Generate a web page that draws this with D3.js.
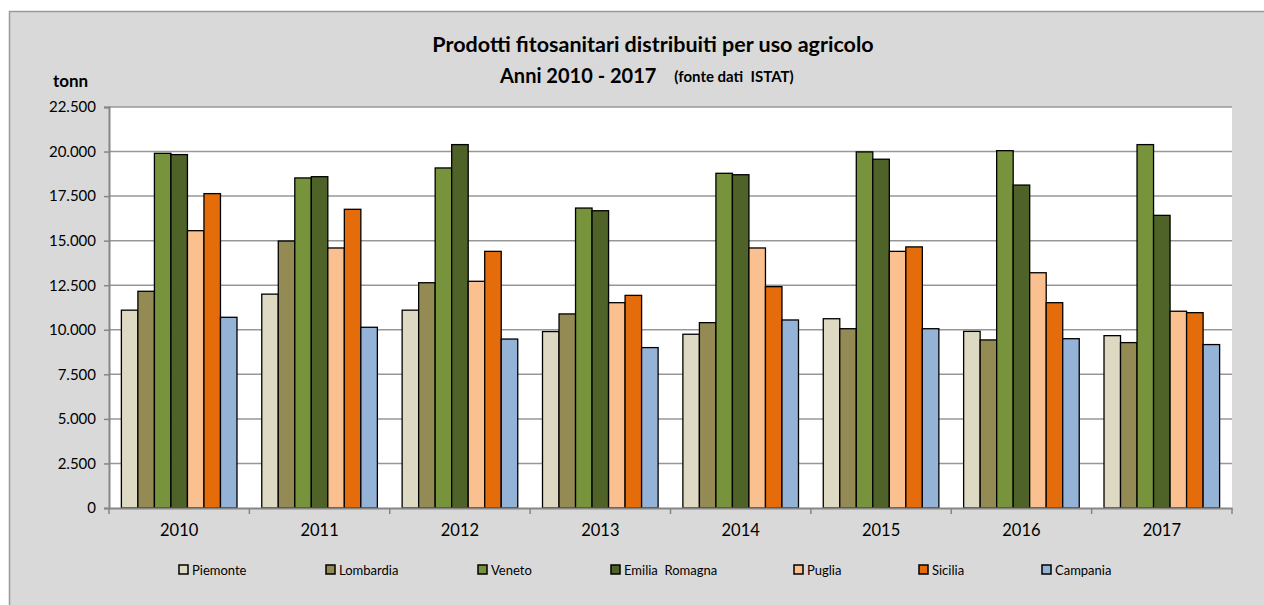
<!DOCTYPE html>
<html>
<head>
<meta charset="utf-8">
<script src="https://d3js.org/d3.v7.min.js"></script>
<style>
body { margin: 0; background: #fff; }
text { font-family: Lato, 'Open Sans', sans-serif; fill: #000; }
</style>
</head>
<body>
<script>
// data (tonn)
var years = ['2010', '2011', '2012', '2013', '2014', '2015', '2016', '2017'];
var regions = ['Piemonte', 'Lombardia', 'Veneto', 'Emilia  Romagna', 'Puglia', 'Sicilia', 'Campania'];
var piemonte = [11100, 12000, 11100, 9900, 9750, 10620, 9910, 9670];
var lombardia = [12160, 14980, 12640, 10890, 10400, 10060, 9430, 9280];
var veneto = [19900, 18520, 19080, 16830, 18780, 19980, 20050, 20390];
var emilia = [19830, 18590, 20390, 16680, 18700, 19570, 18120, 16420];
var puglia = [15560, 14590, 12720, 11520, 14590, 14400, 13200, 11040];
var sicilia = [17640, 16760, 14400, 11930, 12420, 14650, 11520, 10960];
var campania = [10700, 10140, 9480, 9000, 10550, 10060, 9500, 9170];
var yTicks = [0, 2500, 5000, 7500, 10000, 12500, 15000, 17500, 20000, 22500];

var series = [piemonte, lombardia, veneto, emilia, puglia, sicilia, campania];
var colors = ['#DDD9C3', '#948A54', '#77933C', '#4F6228', '#FAC090', '#E46C0A', '#95B3D7'];

var W = 1264, H = 605;
var svg = d3.select('body').append('svg').attr('width', W).attr('height', H);

// chart frame
svg.append('rect').attr('x', 9.5).attr('y', 11.5).attr('width', W).attr('height', H)
  .style('fill', '#D9D9D9').style('stroke', '#9a9a9a').style('stroke-width', 1.5);

var pLeft = 109, pRight = 1232, pTop = 107, pBottom = 508;

var x = d3.scaleBand().domain(years).range([pLeft, pRight]);
// gap width 150% of a bar -> bar = band / 8.5
var barW = x.bandwidth() / 8.5;
var y = d3.scaleLinear().domain([0, 22500]).range([pBottom, pTop]);

svg.append('rect').attr('x', pLeft).attr('y', pTop).attr('width', pRight - pLeft).attr('height', pBottom - pTop)
  .style('fill', '#fff');

// gridlines
svg.append('g').selectAll('line').data(yTicks.slice(1)).enter().append('line')
  .attr('x1', pLeft).attr('x2', pRight)
  .attr('y1', function(d) { return y(d); }).attr('y2', function(d) { return y(d); })
  .style('stroke', '#979797').style('stroke-width', 1.5);

// bars
var groups = svg.append('g').selectAll('g').data(series).enter().append('g')
  .style('fill', function(d, i) { return colors[i]; });
groups.each(function(vals, i) {
  d3.select(this).selectAll('rect').data(vals).enter().append('rect')
    .attr('x', function(d, j) { return x(years[j]) + barW * 0.75 + i * barW; })
    .attr('y', function(d) { return y(d); })
    .attr('width', barW)
    .attr('height', function(d) { return pBottom - y(d); })
    .style('stroke', '#000').style('stroke-width', 1.3);
});

// y axis
var yAxis = svg.append('g').attr('transform', 'translate(' + pLeft + ',0)')
  .call(d3.axisLeft(y).tickValues(yTicks).tickSize(5).tickPadding(8)
    .tickFormat(function(d) { return d3.format(',')(d).replace(',', '.'); }));
yAxis.select('.domain').style('stroke', '#868686').style('stroke-width', 2);
yAxis.selectAll('.tick line').style('stroke', '#868686').style('stroke-width', 1.5);
yAxis.selectAll('text').style('font-size', '15px').style('font-family', 'Lato, sans-serif');

// x axis
var xAxis = svg.append('g').attr('transform', 'translate(0,' + pBottom + ')')
  .call(d3.axisBottom(x).tickSize(0).tickPadding(16).tickSizeOuter(0));
xAxis.select('.domain').style('stroke', '#868686').style('stroke-width', 2);
xAxis.selectAll('text').style('font-size', '16.5px').style('font-family', 'Lato, sans-serif');
svg.append('g').selectAll('line').data(d3.range(years.length + 1)).enter().append('line')
  .attr('x1', function(d) { return pLeft + d * x.bandwidth(); })
  .attr('x2', function(d) { return pLeft + d * x.bandwidth(); })
  .attr('y1', pBottom).attr('y2', pBottom + 6)
  .style('stroke', '#868686').style('stroke-width', 1.5);

// titles
svg.append('text').attr('x', 653).attr('y', 52).style('text-anchor', 'middle')
  .style('font-weight', 'bold').style('font-size', '21.5px')
  .text('Prodotti fitosanitari distribuiti per uso agricolo');
var t2 = svg.append('text').attr('x', 500).attr('y', 83).style('font-weight', 'bold')
  .style('white-space', 'pre');
t2.append('tspan').style('font-size', '20px').text('Anni 2010 - 2017');
t2.append('tspan').attr('dx', 18).style('font-size', '15px').attr('dy', -1).text('(fonte dati  ISTAT)');

svg.append('text').attr('x', 53).attr('y', 87).style('font-weight', 'bold').style('font-size', '17px')
  .text('tonn');

// legend
var legX = [179, 326, 478, 611, 794, 919, 1042];
var leg = svg.append('g').selectAll('g').data(regions).enter().append('g')
  .attr('transform', function(d, i) { return 'translate(' + legX[i] + ',565)'; });
leg.append('rect').attr('width', 9).attr('height', 9)
  .style('fill', function(d, i) { return colors[i]; })
  .style('stroke', '#000').style('stroke-width', 1.5);
leg.append('text').attr('x', 13).attr('y', 10).style('font-size', '13px').style('white-space', 'pre')
  .text(function(d) { return d; });
</script>
</body>
</html>
